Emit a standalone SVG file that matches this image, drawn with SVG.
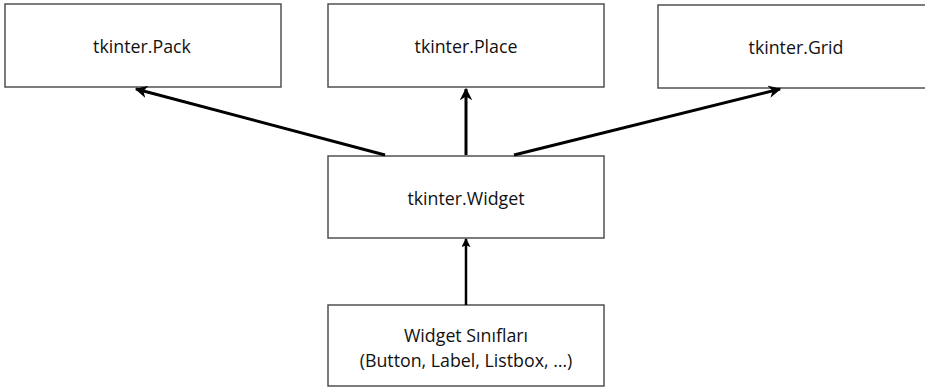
<svg xmlns="http://www.w3.org/2000/svg" width="925" height="388" viewBox="0 0 925 388">
<defs>
<style>
.box{fill:#fff;stroke:#505050;stroke-width:1.5}
.lbl{font-family:"Open Sans","Noto Sans",sans-serif;font-size:17.8px;fill:#111;text-anchor:middle}
.con{stroke:#000;stroke-width:3;fill:none}
.con2{stroke:#000;stroke-width:2.5;fill:none}
</style>
<marker id="ah" viewBox="0 0 10 10" refX="9" refY="5" markerWidth="4.2" markerHeight="4.2" orient="auto" markerUnits="strokeWidth">
<path d="M0,0 L10,5 L0,10 L3,5 z" fill="#000"/>
</marker>
<marker id="ah2" viewBox="0 0 10 10" refX="9" refY="5" markerWidth="3.6" markerHeight="3.6" orient="auto" markerUnits="strokeWidth">
<path d="M0,0 L10,5 L0,10 L2,5 z" fill="#000"/>
</marker>
</defs>
<rect width="925" height="388" fill="#fff"/>
<g id="pack"><rect class="box" x="5" y="4" width="276" height="83"/><text class="lbl" x="142" y="53">tkinter.Pack</text></g>
<g id="place"><rect class="box" x="328" y="4" width="276" height="83"/><text class="lbl" x="466" y="53">tkinter.Place</text></g>
<g id="grid"><rect class="box" x="658" y="5" width="290" height="83"/><text class="lbl" x="796" y="54">tkinter.Grid</text></g>
<g id="widget"><rect class="box" x="328" y="156" width="276" height="82"/><text class="lbl" x="466" y="205">tkinter.Widget</text></g>
<g id="classes"><rect class="box" x="328" y="305" width="276" height="81"/><text class="lbl" x="466" y="342">Widget Sınıfları</text><text class="lbl" x="466" y="367">(Button, Label, Listbox, …)</text></g>
<g id="connectors">
<line class="con" x1="385" y1="155" x2="136" y2="89" marker-end="url(#ah)"/>
<line class="con" x1="466" y1="155" x2="466" y2="89" marker-end="url(#ah)"/>
<line class="con" x1="514" y1="155" x2="780" y2="89" marker-end="url(#ah)"/>
<line class="con2" x1="466" y1="305" x2="466" y2="239" marker-end="url(#ah2)"/>
</g>
</svg>
